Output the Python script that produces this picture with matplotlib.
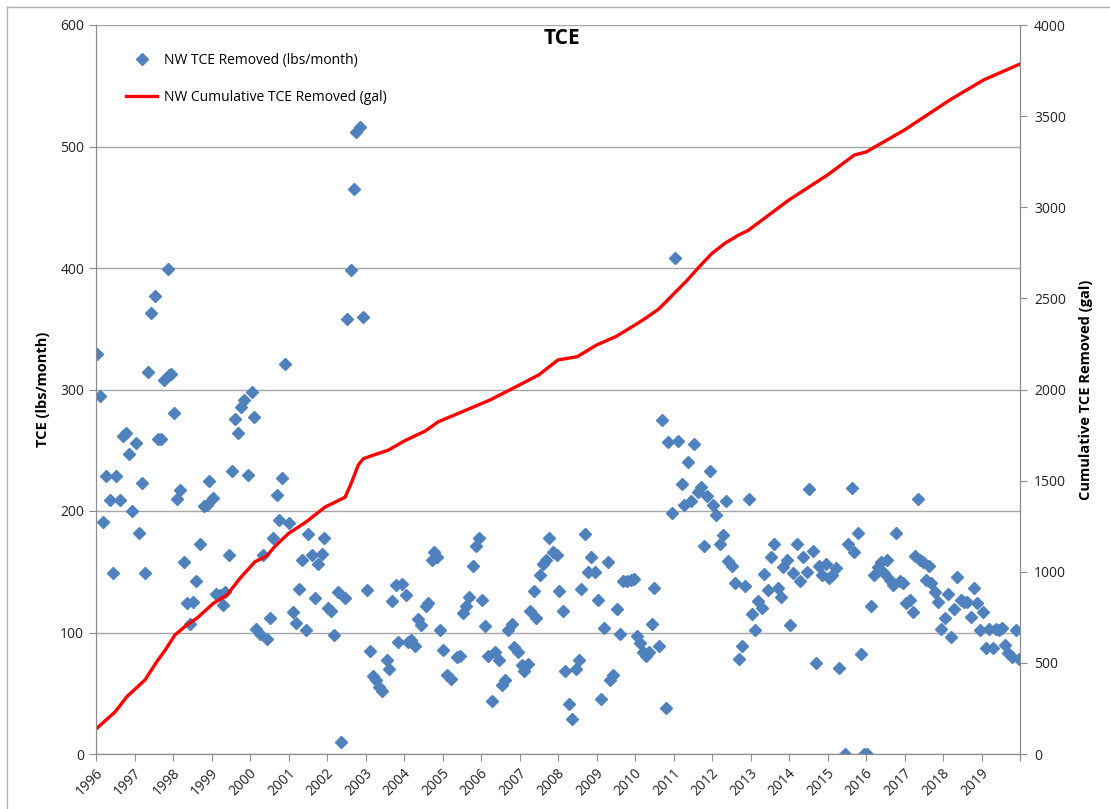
import matplotlib
matplotlib.use("Agg")
import matplotlib.pyplot as plt
from matplotlib.lines import Line2D
from matplotlib.transforms import ScaledTranslation, blended_transform_factory

plt.rcParams['font.family'] = ['Open Sans', 'DejaVu Sans']

# monthly TCE removed (lbs/month), time as decimal year
months = [
    1996.02, 1996.10, 1996.17, 1996.26, 1996.36, 1996.43, 1996.53, 1996.62, 1996.70, 1996.77, 1996.86, 1996.94,
    1997.04, 1997.11, 1997.19, 1997.28, 1997.36, 1997.42, 1997.52, 1997.62, 1997.68, 1997.77, 1997.86, 1997.90, 1997.95,
    1998.03, 1998.10, 1998.18, 1998.29, 1998.36, 1998.44, 1998.53, 1998.60, 1998.69, 1998.81, 1998.88, 1998.94,
    1999.03, 1999.12, 1999.22, 1999.29, 1999.35, 1999.45, 1999.53, 1999.61, 1999.70, 1999.77, 1999.85, 1999.96,
    2000.04, 2000.10, 2000.16, 2000.26, 2000.35, 2000.45, 2000.52, 2000.61, 2000.69, 2000.76, 2000.82, 2000.90,
    2001.01, 2001.12, 2001.19, 2001.27, 2001.34, 2001.45, 2001.51, 2001.60, 2001.69, 2001.76, 2001.86, 2001.93,
    2002.03, 2002.10, 2002.19, 2002.29, 2002.36, 2002.47, 2002.53, 2002.62, 2002.69, 2002.75, 2002.86, 2002.94,
    2003.03, 2003.12, 2003.20, 2003.28, 2003.36, 2003.42, 2003.55, 2003.61, 2003.70, 2003.78, 2003.85, 2003.94,
    2004.05, 2004.11, 2004.19, 2004.28, 2004.37, 2004.45, 2004.56, 2004.63, 2004.72, 2004.78, 2004.85, 2004.94,
    2005.02, 2005.11, 2005.21, 2005.37, 2005.45, 2005.54, 2005.61, 2005.70, 2005.78, 2005.86, 2005.96,
    2006.03, 2006.10, 2006.19, 2006.28, 2006.36, 2006.47, 2006.54, 2006.62, 2006.71, 2006.80, 2006.86, 2006.95,
    2007.06, 2007.12, 2007.22, 2007.27, 2007.38, 2007.44, 2007.53, 2007.62, 2007.69, 2007.77, 2007.87, 2007.97,
    2008.03, 2008.12, 2008.19, 2008.28, 2008.36, 2008.46, 2008.54, 2008.61, 2008.70, 2008.79, 2008.87, 2008.96,
    2009.03, 2009.12, 2009.20, 2009.29, 2009.35, 2009.44, 2009.52, 2009.61, 2009.70, 2009.78, 2009.89, 2009.97,
    2010.04, 2010.12, 2010.20, 2010.29, 2010.37, 2010.43, 2010.50, 2010.62, 2010.71, 2010.80, 2010.87, 2010.95,
    2011.04, 2011.12, 2011.21, 2011.28, 2011.37, 2011.45, 2011.54, 2011.63, 2011.71, 2011.78, 2011.87, 2011.96,
    2012.03, 2012.10, 2012.21, 2012.28, 2012.36, 2012.42, 2012.51, 2012.60, 2012.71, 2012.79, 2012.87, 2012.96,
    2013.03, 2013.12, 2013.20, 2013.29, 2013.36, 2013.45, 2013.53, 2013.62, 2013.71, 2013.79, 2013.85, 2013.94,
    2014.03, 2014.11, 2014.20, 2014.29, 2014.37, 2014.46, 2014.53, 2014.63, 2014.70, 2014.78, 2014.87, 2014.95,
    2015.04, 2015.12, 2015.21, 2015.30, 2015.45, 2015.54, 2015.63, 2015.70, 2015.80, 2015.87, 2015.96,
    2016.03, 2016.12, 2016.21, 2016.30, 2016.38, 2016.47, 2016.55, 2016.62, 2016.71, 2016.79, 2016.88, 2016.97,
    2017.04, 2017.13, 2017.21, 2017.27, 2017.36, 2017.40, 2017.49, 2017.55, 2017.64, 2017.70, 2017.79, 2017.88, 2017.96,
    2018.05, 2018.12, 2018.21, 2018.29, 2018.37, 2018.46, 2018.55, 2018.63, 2018.72, 2018.81, 2018.89, 2018.96,
    2019.05, 2019.12, 2019.20, 2019.29, 2019.37, 2019.45, 2019.54, 2019.61, 2019.70, 2019.80, 2019.89, 2019.97,
]
tce_lbs = [
    329, 295, 191, 229, 209, 149, 229, 209, 262, 264, 247, 200,
    256, 182, 223, 149, 314, 363, 377, 259, 259, 308, 399, 312, 313,
    281, 210, 217, 158, 124, 107, 125, 142, 173, 204, 205, 225,
    211, 132, 131, 123, 133, 164, 233, 276, 264, 286, 291, 230,
    298, 277, 103, 99, 164, 95, 112, 178, 213, 193, 227, 321,
    190, 117, 108, 136, 160, 102, 181, 164, 128, 156, 165, 178,
    120, 118, 98, 133, 10, 128, 358, 398, 465, 512, 516, 360,
    135, 85, 64, 61, 55, 52, 77, 70, 126, 139, 92, 140,
    131, 92, 94, 89, 111, 106, 122, 124, 160, 166, 162, 102,
    86, 65, 62, 80, 81, 116, 122, 129, 155, 171, 178,
    127, 105, 81, 44, 84, 77, 57, 61, 102, 107, 88, 84,
    73, 68, 74, 118, 134, 112, 147, 156, 160, 178, 166, 164,
    134, 118, 68, 41, 29, 70, 77, 136, 181, 150, 162, 150,
    127, 45, 104, 158, 61, 65, 119, 99, 142, 142, 143, 144,
    97, 91, 84, 81, 84, 107, 137, 89, 275, 38, 257, 198,
    408, 258, 222, 205, 240, 208, 255, 216, 220, 171, 212, 233,
    205, 197, 173, 180, 208, 159, 155, 141, 78, 89, 138, 210,
    115, 102, 126, 120, 148, 135, 162, 173, 137, 129, 154, 160,
    106, 149, 173, 142, 162, 150, 218, 167, 75, 155, 147, 156,
    145, 147, 153, 71, 0, 173, 219, 166, 182, 82, 0,
    0, 122, 147, 154, 158, 149, 160, 143, 139, 182, 142, 141,
    124, 127, 117, 163, 210, 160, 158, 143, 155, 141, 133, 125, 103,
    112, 132, 96, 119, 146, 127, 125, 125, 113, 137, 124, 102,
    117, 87, 103, 87, 103, 102, 104, 90, 83, 80, 102, 78,
]

# cumulative TCE removed (gal)
cum_time = [1996.0, 1996.5, 1996.8, 1997.27, 1997.58, 1997.8, 1998.05, 1998.36, 1998.62, 1999.05,
            1999.4, 1999.74, 2000.13, 2000.43, 2000.65, 2000.91, 2001.0, 2001.43, 2001.95, 2002.29,
            2002.47, 2002.64, 2002.81, 2002.94, 2003.25, 2003.59, 2004.03, 2004.55, 2004.89, 2005.32,
            2006.23, 2007.0, 2007.5, 2008.0, 2008.5, 2009.0, 2009.5, 2010.0, 2010.26, 2010.6,
            2010.78, 2011.04, 2011.34, 2011.64, 2011.99, 2012.34, 2012.68, 2012.94, 2014.0, 2015.0,
            2015.7, 2016.0, 2017.0, 2018.18, 2019.05, 2020.0]
cum_gal = [137, 232, 314, 406, 507, 571, 653, 708, 745, 827,
           872, 964, 1055, 1086, 1140, 1192, 1210, 1269, 1355, 1390,
           1409, 1491, 1585, 1620, 1643, 1667, 1720, 1772, 1823, 1861,
           1942, 2025, 2080, 2162, 2180, 2244, 2290, 2354, 2389, 2439,
           2476, 2532, 2596, 2667, 2745, 2803, 2846, 2873, 3040, 3177,
           3287, 3303, 3424, 3589, 3698, 3786]

years = list(range(1996, 2021))
year_labels = [str(y) for y in range(1996, 2020)] + ['']

W, H = 1110, 809
fig = plt.figure(figsize=(W / 100, H / 100), dpi=100)
ax = fig.add_axes([96 / W, 1 - 754 / H, (1020 - 96) / W, (754 - 25) / H])
ax2 = ax.twinx()

gray = '#8c8c8c'
blue = '#4F81BD'

pts, = ax.plot(months, tce_lbs, linestyle='none', marker='D', ms=5.8,
               color=blue, mec=blue, label='NW TCE Removed (lbs/month)')
ln, = ax2.plot(cum_time, cum_gal, color='#ff0000', lw=2.4,
               label='NW Cumulative TCE Removed (gal)')

ax.set_xlim(1996, 2020)
ax.set_ylim(0, 600)
ax2.set_ylim(0, 4000)
ax.set_yticks(range(0, 601, 100))
ax2.set_yticks(range(0, 4001, 500))
ax.set_xticks(years)
ax.set_xticklabels([])

# rotated year labels, hung just below each tick
xlab_tr = blended_transform_factory(ax.transData, ax.transAxes) + \
    ScaledTranslation(0.045, -0.17, fig.dpi_scale_trans)
for yr, lab in zip(years, year_labels):
    ax.text(yr, 0, lab, transform=xlab_tr, rotation=45, ha='right',
            va='center', rotation_mode='anchor', fontsize=10, color='#222222')

ax.grid(axis='y', color='#a6a6a6', lw=1)
ax.set_axisbelow(True)

for a in (ax, ax2):
    for s in a.spines.values():
        s.set_color(gray)
    a.spines['top'].set_visible(False)
ax.tick_params(axis='both', direction='out', length=5, color=gray,
               labelsize=10, labelcolor='#222222')
ax2.tick_params(axis='y', direction='out', length=5, color=gray,
                labelsize=10, labelcolor='#222222', pad=5)

ax.set_ylabel('TCE (lbs/month)', fontsize=10.5, fontweight='bold')
ax.yaxis.set_label_coords(-0.05, 0.5)
ax2.set_ylabel('Cumulative TCE Removed (gal)', fontsize=10.5,
               fontweight='bold', rotation=90)
ax2.yaxis.set_label_coords(1.064, 0.5)

fig.text(562 / W, 1 - 38 / H, 'TCE', ha='center', va='center',
         fontsize=15, fontweight='bold')

ax2.legend(handles=[pts, ln], loc='upper left',
           bbox_to_anchor=(126 / W, 1 - 53 / H), bbox_transform=fig.transFigure,
           frameon=False, fontsize=10, handlelength=2.25, handletextpad=0.45,
           labelspacing=1.55, borderpad=0, borderaxespad=0)

# outer chart frame (left and top edges visible)
fig.add_artist(Line2D([7 / W, 7 / W], [0, 1 - 7 / H], transform=fig.transFigure,
                      color='#b0b0b0', lw=1))
fig.add_artist(Line2D([7 / W, 1], [1 - 7 / H, 1 - 7 / H], transform=fig.transFigure,
                      color='#b0b0b0', lw=1))

fig.savefig('out.png', dpi=100)
